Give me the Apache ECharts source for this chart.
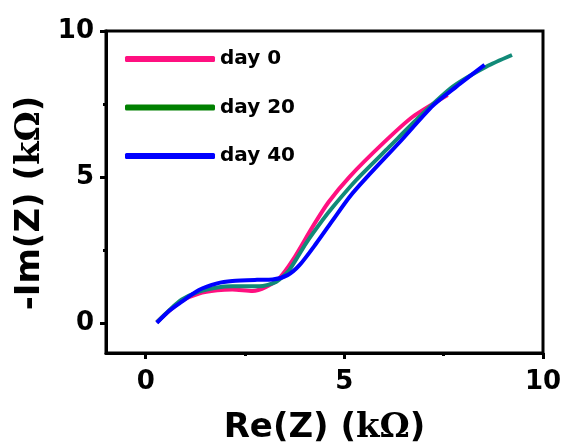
<!DOCTYPE html>
<html>
<head>
    <meta charset="UTF-8">
    <title>Nyquist plot</title>
</head>
<body style="margin: 0;overflow: hidden;background: #fff;">
<div id="chart" style="width: 563px;height:445px"></div>
<script type="text/javascript" src="https://cdn.jsdelivr.net/npm/echarts@6/dist/echarts.min.js"></script>
<script type="text/javascript">
    // Re(Z), -Im(Z) in kOhm
    var day0 = [[0.28, 0.05], [0.6, 0.45], [0.9, 0.78], [1.34, 1.03], [1.8, 1.14], [2.18, 1.17], [2.69, 1.12],
        [3.03, 1.26], [3.36, 1.55], [3.7, 2.17], [4.2, 3.31], [4.6, 4.15], [5.13, 5.02], [5.97, 6.16],
        [6.72, 7.07], [7.6, 7.81]];
    var day20 = [[0.28, 0.05], [0.6, 0.47], [0.9, 0.82], [1.34, 1.1], [1.8, 1.24], [2.18, 1.28], [2.86, 1.28],
        [3.28, 1.43], [3.61, 1.83], [4.03, 2.74], [4.45, 3.54], [4.71, 3.99], [5.3, 4.91], [6.13, 6.04],
        [6.89, 7.07], [7.73, 8.1], [8.57, 8.78], [9.22, 9.18]];
    var day40 = [[0.28, 0.03], [0.6, 0.45], [0.84, 0.69], [1.34, 1.15], [1.8, 1.38], [2.18, 1.46], [2.8, 1.5],
        [3.19, 1.51], [3.57, 1.66], [3.87, 2.0], [4.29, 2.74], [4.71, 3.54], [5.13, 4.33], [5.55, 4.98],
        [6.39, 6.2], [7.23, 7.45], [7.82, 8.1], [8.53, 8.84]];
    var seriesNames = ['day 0', 'day 20', 'day 40'];
    var majorTicks = [0, 5, 10];
    var minorTicks = [2.5, 7.5];

    var font = 'DejaVu Sans';
    var serif = 'DejaVu Serif';
    var titleRich = {
        s: {fontFamily: font, fontWeight: 'bold', fontSize: 34, color: '#000'},
        k: {fontFamily: serif, fontWeight: 'bold', fontSize: 34, color: '#000'}
    };

    function valueAxis(pos, name, gap, labelMargin, namePadding) {
        return {
            type: 'value',
            position: pos,
            min: -1,
            max: 10,
            name: name,
            nameLocation: 'middle',
            nameGap: gap,
            nameTextStyle: {rich: titleRich, padding: namePadding},
            splitLine: {show: false},
            axisLine: {show: true, onZero: false, lineStyle: {color: '#000', width: 3}},
            axisTick: {show: true, inside: false, length: 6, customValues: majorTicks,
                lineStyle: {color: '#000', width: 3}},
            axisLabel: {customValues: majorTicks, margin: labelMargin, fontFamily: font, fontWeight: 'bold',
                fontSize: 26, color: '#000'}
        };
    }

    function minorAxis(pos) {
        return {
            type: 'value',
            position: pos,
            min: -1,
            max: 10,
            splitLine: {show: false},
            axisLine: {show: false, onZero: false},
            axisTick: {show: true, inside: false, length: 3, customValues: minorTicks,
                lineStyle: {color: '#000', width: 3}},
            axisLabel: {show: false}
        };
    }

    var colors = ['#ff1080', '#118a78', '#0000ff'];
    var legendColors = ['#ff1080', '#008000', '#0000ff'];
    var datasets = [day0, day20, day40];

    var chart = echarts.init(document.getElementById('chart'));
    chart.setOption({
        backgroundColor: '#fff',
        animation: false,
        grid: {left: 106, right: 20, top: 31, bottom: 92, show: true, outerBoundsMode: 'none',
            containLabel: false, borderColor: '#000', borderWidth: 3, backgroundColor: 'transparent'},
        legend: {
            orient: 'vertical',
            left: 120,
            top: 44,
            itemWidth: 90,
            itemHeight: 6,
            itemGap: 28.5,
            icon: 'roundRect',
            textStyle: {fontFamily: font, fontWeight: 'bold', fontSize: 20, color: '#000', lineHeight: 20},
            data: seriesNames.map(function (n, i) {
                return {name: n, itemStyle: {color: legendColors[i]}};
            })
        },
        xAxis: [
            valueAxis('bottom', '{s|Re(Z) (}{k|kΩ}{s|)}', 58, 16, [0, 0, 0, 0]),
            minorAxis('bottom')
        ],
        yAxis: [
            valueAxis('left', '{s|-Im(Z) (}{k|kΩ}{s|)}', 37, 12, [0, 22, 0, 0]),
            minorAxis('left')
        ],
        series: datasets.map(function (d, i) {
            return {
                name: seriesNames[i],
                type: 'line',
                data: d,
                smooth: 0.25,
                showSymbol: false,
                symbol: 'none',
                color: colors[i],
                lineStyle: {color: colors[i], width: 4},
                z: 2 + i
            };
        })
    });
</script>
</body>
</html>
